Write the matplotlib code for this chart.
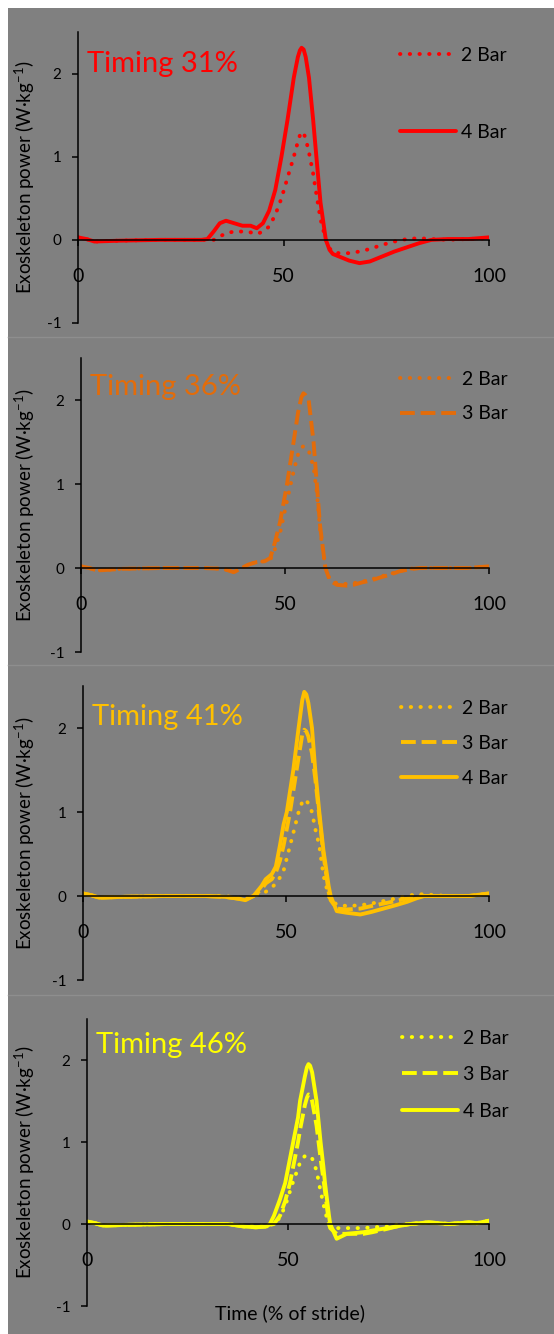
import matplotlib
matplotlib.use("Agg")
import matplotlib.pyplot as plt
from matplotlib.patches import Rectangle
from matplotlib.lines import Line2D

plt.rcParams['font.family'] = ['Lato', 'DejaVu Sans']
plt.rcParams['mathtext.fontset'] = 'custom'
plt.rcParams['mathtext.rm'] = 'Lato'

# ---- data ----
titles = ["Timing 31%", "Timing 36%", "Timing 41%", "Timing 46%"]
colors = ["#FF0000", "#E36C0A", "#FFC000", "#FFFF00"]

x31 = [0, 2, 4, 10, 20, 30, 31.5, 33, 34.5, 36, 38, 40, 42, 43.5, 45, 46.5, 48, 49.5, 51, 52.5,
       53.5, 54, 54.4, 54.9, 55.4, 56.2, 57.2, 58, 59, 60.3, 61.2, 62, 63.5, 66, 68.5, 71, 74,
       77, 80, 83, 86, 90, 95, 100]
t31_2bar = [0.03, 0.01, -0.02, -0.01, 0, 0, 0, 0, 0.04, 0.08, 0.1, 0.1, 0.09, 0.07, 0.1, 0.16,
            0.3, 0.5, 0.75, 1.0, 1.18, 1.26, 1.3, 1.28, 1.22, 1.05, 0.8, 0.55, 0.25, 0.0, -0.1,
            -0.15, -0.16, -0.16, -0.14, -0.11, -0.06, -0.02, 0.01, 0.02, 0.01, 0.0, 0.01, 0.02]
t31_4bar = [0.03, 0.01, -0.02, -0.01, 0, 0, 0.01, 0.1, 0.2, 0.23, 0.2, 0.17, 0.17, 0.14, 0.2,
            0.35, 0.6, 1.0, 1.45, 1.95, 2.2, 2.28, 2.31, 2.29, 2.2, 1.95, 1.45, 1.0, 0.45, 0.0,
            -0.12, -0.17, -0.2, -0.25, -0.28, -0.26, -0.2, -0.14, -0.09, -0.04, 0.0, 0.01, 0.01,
            0.03]

x36 = [0, 2, 4, 10, 20, 30, 35, 37.4, 39, 41, 43, 45, 46.4, 47.5, 48.8, 50.5, 52.1, 53.2, 54,
       54.5, 55, 55.8, 57, 57.8, 58.6, 59.9, 61, 62.7, 65, 66.8, 69, 71, 73.5, 75.8, 78, 80, 83,
       90, 95, 100]
t36_2bar = [0.02, 0.0, -0.03, -0.01, 0, 0, -0.01, -0.05, -0.01, 0.04, 0.07, 0.08, 0.1, 0.22,
            0.42, 0.8, 1.15, 1.35, 1.43, 1.45, 1.44, 1.4, 1.2, 0.9, 0.45, 0.0, -0.14, -0.18,
            -0.19, -0.18, -0.16, -0.14, -0.1, -0.07, -0.04, -0.01, 0.0, 0.0, 0.0, 0.02]
t36_3bar = [0.02, 0.0, -0.03, -0.01, 0, 0, -0.01, -0.05, -0.01, 0.04, 0.07, 0.08, 0.12, 0.3,
            0.55, 1.0, 1.5, 1.85, 2.03, 2.08, 2.06, 2.0, 1.5, 1.0, 0.5, 0.0, -0.15, -0.2, -0.21,
            -0.2, -0.17, -0.15, -0.11, -0.08, -0.04, -0.02, 0.0, 0.0, 0.0, 0.02]

x41 = [0, 2, 4, 10, 20, 30, 35, 38, 40, 42, 44, 45, 46.5, 47.5, 48.5, 49.4, 50.2, 51, 51.8, 53.1,
       54, 54.5, 55, 55.5, 56.4, 57.2, 58.2, 59.2, 60.5, 61, 62.5, 65, 68.3, 71, 74, 77, 79.8,
       82, 84, 90, 95, 100]
t41_2bar = [0.03, 0.01, -0.02, -0.01, 0, 0, 0, -0.02, -0.03, 0.0, 0.03, 0.05, 0.1, 0.15, 0.22,
            0.3, 0.45, 0.6, 0.75, 1.0, 1.12, 1.15, 1.14, 1.1, 1.0, 0.8, 0.6, 0.25, 0.0, -0.05,
            -0.1, -0.12, -0.11, -0.09, -0.06, -0.03, 0.0, 0.02, 0.02, 0.0, 0.0, 0.02]
t41_3bar = [0.03, 0.01, -0.02, -0.01, 0, 0, -0.01, -0.03, -0.04, 0.0, 0.08, 0.15, 0.2, 0.28,
            0.42, 0.6, 0.8, 1.0, 1.25, 1.65, 1.92, 1.98, 1.96, 1.9, 1.7, 1.4, 0.95, 0.5, 0.05,
            -0.05, -0.15, -0.16, -0.15, -0.12, -0.09, -0.06, -0.03, -0.01, 0.0, 0.0, 0.0, 0.03]
t41_4bar = [0.03, 0.01, -0.02, -0.01, 0, 0, -0.01, -0.03, -0.05, 0.0, 0.12, 0.2, 0.26, 0.35,
            0.6, 0.85, 1.0, 1.25, 1.5, 2.0, 2.33, 2.43, 2.4, 2.3, 2.0, 1.5, 1.0, 0.55, 0.12, 0.0,
            -0.18, -0.2, -0.22, -0.19, -0.15, -0.11, -0.07, -0.03, 0.0, 0.0, 0.0, 0.03]

x46 = [0, 2, 4, 10, 20, 30, 35, 39, 42, 44.7, 45.5, 46.5, 48, 49.3, 50.5, 51.3, 52.5, 53, 54.2,
       54.7, 55.1, 55.5, 56, 57.1, 58.1, 58.8, 59.2, 60.2, 60.5, 62.1, 64.6, 68.8, 71, 74.6, 77,
       80.4, 85, 90, 95, 97, 100]
t46_2bar = [0.03, 0.01, -0.02, -0.01, 0, 0, 0, -0.02, -0.02, -0.02, -0.01, 0.0, 0.08, 0.22,
            0.4, 0.52, 0.68, 0.75, 0.83, 0.84, 0.83, 0.82, 0.8, 0.65, 0.4, 0.25, 0.15, 0.0,
            -0.02, -0.05, -0.05, -0.05, -0.04, -0.03, -0.01, 0.0, 0.02, 0.0, 0.02, 0.01, 0.04]
t46_3bar = [0.03, 0.01, -0.02, -0.01, 0, 0, 0, -0.03, -0.04, -0.03, -0.01, 0.0, 0.1, 0.28, 0.5,
            0.7, 1.0, 1.15, 1.45, 1.54, 1.58, 1.57, 1.5, 1.2, 0.8, 0.55, 0.4, 0.0, -0.05, -0.12,
            -0.12, -0.12, -0.1, -0.06, -0.03, 0.0, 0.02, 0.0, 0.02, 0.01, 0.04]
t46_4bar = [0.03, 0.01, -0.02, -0.01, 0, 0, 0, -0.03, -0.04, -0.03, 0.0, 0.1, 0.3, 0.5, 0.8,
            1.0, 1.3, 1.5, 1.8, 1.91, 1.95, 1.93, 1.85, 1.5, 1.0, 0.7, 0.5, 0.1, 0.0, -0.18,
            -0.12, -0.1, -0.08, -0.05, -0.03, 0.0, 0.02, 0.0, 0.02, 0.01, 0.04]

xticks = [0, 50, 100]
yticks = [-1, 0, 1, 2]

DOT = (0, (0.1, 2.4))
DASH = (0, (3.8, 1.5))
SOLID = '-'

panels = [
    (x31, [("2 Bar", t31_2bar, DOT), ("4 Bar", t31_4bar, SOLID)]),
    (x36, [("2 Bar", t36_2bar, DOT), ("3 Bar", t36_3bar, DASH)]),
    (x41, [("2 Bar", t41_2bar, DOT), ("3 Bar", t41_3bar, DASH), ("4 Bar", t41_4bar, SOLID)]),
    (x46, [("2 Bar", t46_2bar, DOT), ("3 Bar", t46_3bar, DASH), ("4 Bar", t46_4bar, SOLID)]),
]

# axes boxes in pixels: left, right, top (y=2.5), bottom (y=-1)
W, H = 554, 1334
boxes = [(78, 489, 32, 323), (81, 489, 358, 652), (83, 489, 686, 980), (87, 489, 1019, 1306)]
title_y = [0.935, 0.945, 0.94, 0.955]
leg_y = [0.95, 0.955, 0.952, 0.963]
leg_space = [3.1, 0.88, 0.92, 1.0]
bg = "#808080"

fig = plt.figure(figsize=(W / 100, H / 100), dpi=100)
fig.patch.set_facecolor("white")
fig.add_artist(Rectangle((8 / W, 0), 1 - 8 / W, 1 - 8 / H, transform=fig.transFigure,
                         facecolor=bg, edgecolor="none", zorder=-10))
for ysep in [337, 665, 995]:
    fig.add_artist(Line2D([8 / W, 1], [1 - ysep / H] * 2, transform=fig.transFigure,
                          color="#8e8e8e", lw=1, zorder=-9))

for i, (xs, series) in enumerate(panels):
    l, r, t, b = boxes[i]
    ax = fig.add_axes([l / W, 1 - b / H, (r - l) / W, (b - t) / H])
    ax.set_facecolor("none")
    c = colors[i]
    for label, ys, ls in series:
        ax.plot(xs, ys, color=c, lw=2.8, ls=ls, label=label,
                dash_capstyle="round" if ls == DOT else "butt",
                solid_capstyle="round", solid_joinstyle="round")
    ax.set_xlim(0, 100)
    ax.set_ylim(-1, 2.5)
    for s in ["top", "right"]:
        ax.spines[s].set_visible(False)
    ax.spines["bottom"].set_position(("data", 0))
    for s in ["left", "bottom"]:
        ax.spines[s].set_color("black")
        ax.spines[s].set_linewidth(1.1)
    ax.set_xticks(xticks)
    ax.set_yticks(yticks)
    ax.set_yticklabels([str(v) for v in yticks])
    ax.tick_params(axis="x", direction="out", length=4, width=1.1, pad=16, labelsize=14,
                   colors="black")
    ax.tick_params(axis="y", direction="out", length=4, width=1.1, pad=8, labelsize=11,
                   colors="black")
    ax.text(0.022, title_y[i], titles[i], transform=ax.transAxes, color=c, fontsize=21,
            ha="left", va="top")
    ax.legend(loc="upper left", bbox_to_anchor=(0.783, leg_y[i]), frameon=False, fontsize=14,
              handlelength=2.9, handletextpad=0.25, borderpad=0, borderaxespad=0,
              labelspacing=leg_space[i])
    fig.text(25 / W, 1 - (t + b) / 2 / H, "Exoskeleton power (W·kg$^{\\mathregular{-1}}$)",
             rotation=90, ha="center", va="center", fontsize=13.5)

fig.text(290 / W, 1 - 1313 / H, "Time (% of stride)", ha="center", va="center", fontsize=14)

fig.savefig("out.png", dpi=100)
